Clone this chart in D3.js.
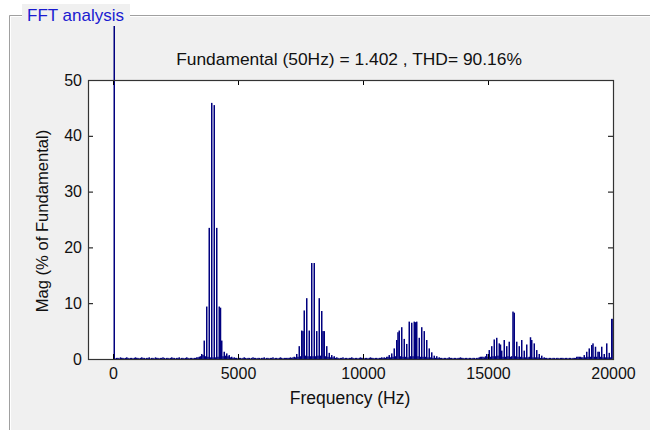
<html>
<head>
<script src="https://d3js.org/d3.v7.min.js"></script>
<style>
  body { margin: 0; background: #fff; }
  svg { display: block; font-family: "Liberation Sans", Arial, sans-serif; }
</style>
</head>
<body>
<svg id="chart" width="650" height="430"></svg>
<script>
// FFT spectrum, one bar per 50 Hz harmonic bin (0 .. 20000 Hz), % of fundamental
const binHz = 50
const magnitude = [
  // 0 - 950 Hz
  0, 100, 0.1, 0.2, 0.2, 0.1, 0.3, 0.2, 0.2, 0.1, 0.2, 0.3, 0.2, 0.1, 0.2, 0.2, 0.1, 0.2, 0.3, 0.2,
  // 1000 - 1950
  0.2, 0.1, 0.2, 0.3, 0.2, 0.2, 0.1, 0.2, 0.2, 0.3, 0.1, 0.2, 0.2, 0.1, 0.3, 0.2, 0.2, 0.1, 0.2, 0.2,
  // 2000 - 2950
  0.3, 0.2, 0.1, 0.2, 0.2, 0.1, 0.2, 0.3, 0.2, 0.2, 0.1, 0.2, 0.2, 0.3, 0.1, 0.2, 0.2, 0.1, 0.2, 0.3,
  // 3000 - 3950
  0.2, 0.1, 0.2, 0.2, 0.1, 0.2, 0.2, 0.3, 0.3, 0.4, 0.5, 0.9, 0.7, 3.3, 0.5, 9.4, 0.4, 23.5, 0.3, 45.9,
  // 4000 - 4950
  0.3, 45.5, 0.3, 23.5, 0.4, 9.4, 9.2, 3.3, 0.5, 1.3, 0.6, 1.0, 0.5, 0.7, 0.3, 0.4, 0.2, 0.3, 0.2, 0.2,
  // 5000 - 5950
  0.1, 0.2, 0.2, 0.1, 0.2, 0.3, 0.2, 0.1, 0.2, 0.2, 0.1, 0.2, 0.3, 0.2, 0.2, 0.1, 0.2, 0.2, 0.1, 0.2,
  // 6000 - 6950
  0.2, 0.3, 0.1, 0.2, 0.2, 0.1, 0.2, 0.2, 0.3, 0.1, 0.2, 0.2, 0.1, 0.2, 0.3, 0.2, 0.1, 0.2, 0.2, 0.2,
  // 7000 - 7950
  0.2, 0.2, 0.3, 0.2, 0.3, 0.4, 0.3, 0.9, 0.4, 2.3, 0.5, 5.1, 5.0, 8.7, 0.6, 10.9, 0.5, 5.1, 0.5, 17.2,
  // 8000 - 8950
  0.5, 17.2, 0.5, 5.0, 0.6, 10.9, 0.6, 8.6, 5.0, 5.0, 0.5, 2.3, 0.4, 1.1, 0.3, 0.7, 0.3, 0.5, 0.2, 0.3,
  // 9000 - 9950
  0.2, 0.1, 0.2, 0.2, 0.3, 0.1, 0.2, 0.2, 0.1, 0.2, 0.2, 0.3, 0.2, 0.1, 0.2, 0.2, 0.1, 0.2, 0.3, 0.2,
  // 10000 - 10950
  0.2, 0.1, 0.2, 0.2, 0.1, 0.2, 0.3, 0.2, 0.2, 0.1, 0.2, 0.2, 0.1, 0.2, 0.2, 0.3, 0.2, 0.3, 0.2, 0.4,
  // 11000 - 11950
  0.4, 0.7, 0.3, 1.0, 0.4, 1.9, 0.5, 3.4, 4.8, 5.1, 0.5, 5.7, 0.4, 3.6, 0.4, 2.7, 0.3, 6.7, 0.5, 6.5,
  // 12000 - 12950
  0.5, 6.7, 6.6, 6.7, 0.5, 3.8, 0.4, 5.7, 0.4, 5.0, 0.4, 3.4, 0.3, 1.9, 0.3, 1.2, 0.2, 0.6, 0.2, 0.5,
  // 13000 - 13950
  0.2, 0.3, 0.2, 0.2, 0.1, 0.2, 0.2, 0.1, 0.2, 0.3, 0.2, 0.2, 0.1, 0.2, 0.2, 0.1, 0.2, 0.2, 0.3, 0.2,
  // 14000 - 14950
  0.2, 0.1, 0.2, 0.2, 0.1, 0.2, 0.2, 0.1, 0.2, 0.2, 0.1, 0.2, 0.2, 0.3, 0.4, 0.4, 0.4, 0.3, 0.5, 0.9,
  // 15000 - 15950
  0.4, 1.6, 0.4, 2.3, 0.5, 3.5, 0.5, 3.8, 0.6, 2.8, 2.6, 1.5, 0.4, 3.4, 0.4, 2.3, 0.5, 3.1, 0.4, 0.5,
  // 16000 - 16950
  8.5, 8.3, 0.5, 3.1, 0.4, 2.3, 0.4, 3.4, 0.3, 1.5, 0.3, 2.6, 0.3, 0.4, 3.9, 3.4, 0.3, 2.8, 0.3, 1.6,
  // 17000 - 17950
  0.3, 0.9, 0.2, 0.6, 0.2, 0.3, 0.2, 0.2, 0.1, 0.2, 0.2, 0.1, 0.2, 0.2, 0.1, 0.2, 0.2, 0.1, 0.2, 0.2,
  // 18000 - 18950
  0.2, 0.1, 0.2, 0.2, 0.1, 0.2, 0.2, 0.1, 0.2, 0.2, 0.2, 0.4, 0.4, 0.4, 0.4, 0.3, 0.3, 0.7, 0.3, 1.3,
  // 19000 - 19950
  0.4, 1.9, 0.4, 2.5, 2.8, 0.4, 2.2, 0.4, 1.3, 1.3, 0.4, 2.2, 0.3, 0.9, 0.3, 2.8, 0.3, 1.1, 0.3, 7.2,
  // 20000
  7.2
]
const xTicks = [0, 5000, 10000, 15000, 20000]
const yTicks = [0, 10, 20, 30, 40, 50]
const titleText = "Fundamental (50Hz) = 1.402 , THD= 90.16%"
const panelText = "FFT analysis"

let svg = d3.select("#chart")

// panel (etched frame with caption)
svg.append("rect").attr("x", 9).attr("y", 15).attr("width", 700).attr("height", 500)
  .attr("fill", "#f0f0f0")
svg.append("path").attr("d", "M9.5,440V15.5H660").attr("fill", "none").attr("stroke", "#a0a0a0")
svg.append("path").attr("d", "M10.5,440V16.5H660").attr("fill", "none").attr("stroke", "#ffffff")
svg.append("rect").attr("x", 22).attr("y", 4).attr("width", 108).attr("height", 22).attr("fill", "#f0f0f0")
svg.append("text").attr("x", 27).attr("y", 21).attr("font-size", 17).attr("fill", "#1a1ad0")
  .text(panelText)

// axes area
let plotL = 88, plotR = 613, plotT = 80, plotB = 359
let xScale = d3.scaleLinear().domain([-1000, 20000]).range([plotL, plotR])
let yScale = d3.scaleLinear().domain([0, 50]).range([plotB, plotT])

svg.append("rect").attr("x", plotL).attr("y", plotT)
  .attr("width", plotR - plotL).attr("height", plotB - plotT).attr("fill", "#fff")

svg.append("clipPath").attr("id", "clip")
  .append("rect").attr("x", plotL).attr("y", 26).attr("width", plotR - plotL).attr("height", plotB - 26)

// bars
svg.append("g").attr("clip-path", "url(#clip)")
  .selectAll("rect")
  .data(magnitude.map((m, i) => ({ f: i * binHz, m: m })).filter(d => d.m > 0))
  .join("rect")
  .attr("x", d => xScale(d.f) - 0.75)
  .attr("width", 1.5)
  .attr("y", d => yScale(d.m))
  .attr("height", d => yScale(0) - yScale(d.m))
  .attr("fill", "#00007f")

// axes with inward ticks on all four sides
function styleAxis(g) {
  g.select(".domain").remove()
  g.selectAll(".tick line").attr("stroke", "#000")
  g.selectAll("text").attr("font-size", 16).attr("fill", "#111")
    .attr("font-family", "Liberation Sans, Arial, sans-serif")
}
svg.append("g").attr("transform", "translate(0," + plotB + ")")
  .call(d3.axisBottom(xScale).tickValues(xTicks).tickFormat(d3.format("d"))
    .tickSizeInner(-5).tickSizeOuter(0).tickPadding(9))
  .call(styleAxis)
svg.append("g").attr("transform", "translate(0," + plotT + ")")
  .call(d3.axisTop(xScale).tickValues(xTicks).tickFormat("")
    .tickSizeInner(-5).tickSizeOuter(0))
  .call(styleAxis)
svg.append("g").attr("transform", "translate(" + plotL + ",0)")
  .call(d3.axisLeft(yScale).tickValues(yTicks)
    .tickSizeInner(-5).tickSizeOuter(0).tickPadding(6))
  .call(styleAxis)
svg.append("g").attr("transform", "translate(" + plotR + ",0)")
  .call(d3.axisRight(yScale).tickValues(yTicks).tickFormat("")
    .tickSizeInner(-5).tickSizeOuter(0))
  .call(styleAxis)

// box
svg.append("rect").attr("x", plotL + 0.5).attr("y", plotT + 0.5)
  .attr("width", plotR - plotL).attr("height", plotB - plotT)
  .attr("fill", "none").attr("stroke", "#333").attr("stroke-width", 1.2)

// texts
svg.append("text").attr("x", 349).attr("y", 65).attr("text-anchor", "middle")
  .attr("font-size", 17.4).attr("fill", "#111").text(titleText)
svg.append("text").attr("x", 350).attr("y", 404).attr("text-anchor", "middle")
  .attr("font-size", 17.5).attr("fill", "#111").text("Frequency (Hz)")
svg.append("text").attr("transform", "translate(48,221) rotate(-90)")
  .attr("text-anchor", "middle").attr("font-size", 16.6).attr("fill", "#111").text("Mag (% of Fundamental)")
</script>
</body>
</html>
